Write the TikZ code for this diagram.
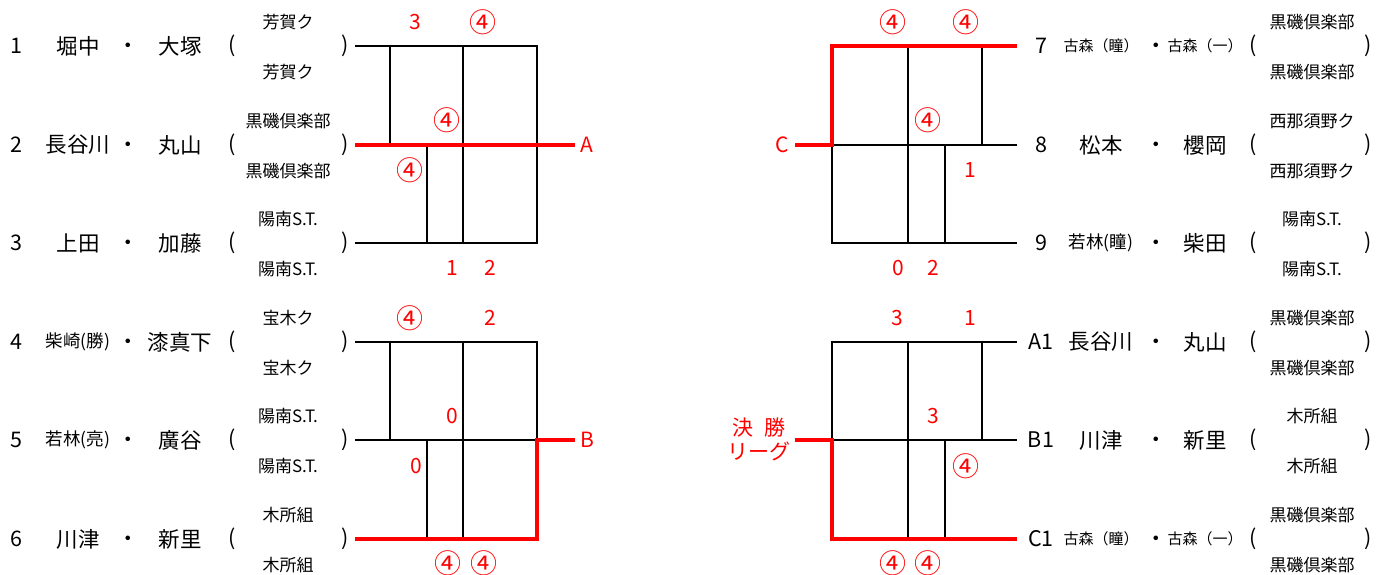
\documentclass[tikz,border=0pt]{standalone}
\usepackage{fontspec}
\setmainfont{Noto Sans CJK JP}
\usepackage{tikz}
\usetikzlibrary{calc}
\newcommand{\smallnm}[1]{{\fontsize{17.5}{17.5}\selectfont #1}}
\newcommand{\tinynm}[1]{{\fontsize{15}{15}\selectfont #1}}
\newcommand{\cfour}{{\fontsize{27}{27}\selectfont ④}}
\tikzset{
    % 黒い線
    blackline/.style={
        line width=1.4pt,
        black
    },
    % 赤い勝ち上がり線
    redline/.style={
        line width=3.6pt,
        red
    },
    bigname/.style={font=\fontsize{21.5}{21.5}\selectfont, inner sep=0pt},
    clubname/.style={font=\fontsize{17}{17}\selectfont, inner sep=0pt},
    redtext/.style={font=\fontsize{21}{21}\selectfont, text=red, inner sep=0pt}
}

\begin{document}
\begin{tikzpicture}[x=1pt,y=-1pt]
	\useasboundingbox (0,0) rectangle (1391,574);
	
	% 左の組 (1--6)
	\foreach \i/\y/\na/\nb/\club in {1/46/堀中/大塚/芳賀ク,
		2/145/長谷川/丸山/黒磯倶楽部,
		3/243/上田/加藤/陽南S.T.,
		4/342/\smallnm{柴崎(勝)}/漆真下/宝木ク,
		5/440/\smallnm{若林(亮)}/廣谷/陽南S.T.,
		6/539/川津/新里/木所組}{
		\node[bigname] (num\i) at (16,\y) {\i};
		\node[bigname] (na\i) at (78,\y) {\na};
		\node[bigname] (dot\i) at (128,\y+2) {・};
		\node[bigname] (nb\i) at (180,\y) {\nb};
		\node[bigname] (lp\i) at (232,\y) {(};
		\node[clubname] (cu\i) at (288,\y-24) {\club};
		\node[clubname] (cd\i) at (288,\y+26) {\club};
		\node[bigname] (rp\i) at (345,\y) {)};
	}
	
	% 右の組 (7--9, A1--C1)
	\foreach \i/\y/\k/\na/\nb/\club in {7/46/7/\tinynm{古森（瞳）}/\tinynm{古森（一）}/黒磯倶楽部,
		8/145/8/松本/櫻岡/西那須野ク,
		9/243/9/\smallnm{若林(瞳)}/柴田/陽南S.T.,
		10/342/A1/長谷川/丸山/黒磯倶楽部,
		11/440/B1/川津/新里/木所組,
		12/539/C1/\tinynm{古森（瞳）}/\tinynm{古森（一）}/黒磯倶楽部}{
		\node[bigname] (num\i) at (1041,\y) {\k};
		\node[bigname] (na\i) at (1101,\y) {\na};
		\node[bigname] (dot\i) at (1156,\y+2) {・};
		\node[bigname] (nb\i) at (1205,\y) {\nb};
		\node[bigname] (lp\i) at (1253,\y) {(};
		\node[clubname] (cu\i) at (1312,\y-24) {\club};
		\node[clubname] (cd\i) at (1312,\y+26) {\club};
		\node[bigname] (rp\i) at (1368,\y) {)};
	}
	
	\path
	(355,46) coordinate (p1) (537,46) coordinate (q1)
	(355,145) coordinate (p2) (537,145) coordinate (q2)
	(355,243) coordinate (p3) (537,243) coordinate (q3)
	(355,342) coordinate (p4) (537,342) coordinate (q4)
	(355,440) coordinate (p5) (537,440) coordinate (q5)
	(355,539) coordinate (p6) (537,539) coordinate (q6)
	(575,145) coordinate (ta) (575,440) coordinate (tb)
	
	(832,46) coordinate (s1) (1017,46) coordinate (t1)
	(832,145) coordinate (s2) (1017,145) coordinate (t2)
	(832,243) coordinate (s3) (1017,243) coordinate (t3)
	(832,342) coordinate (s4) (1017,342) coordinate (t4)
	(832,440) coordinate (s5) (1017,440) coordinate (t5)
	(832,539) coordinate (s6) (1017,539) coordinate (t6)
	(795,145) coordinate (tc) (795,440) coordinate (tf);
	
	% 黒線 左上
	\draw[blackline] (p1) -- (q1) -- (q3) -- (p3);
	\draw[blackline] (390,46) -- (390,145);
	\draw[blackline] (463,46) -- (463,243);
	\draw[blackline] (427,145) -- (427,243);
	% 黒線 左下
	\draw[blackline] (p4) -- (q4) -- (q5) -- (p5);
	\draw[blackline] (390,342) -- (390,440);
	\draw[blackline] (463,342) -- (463,539);
	\draw[blackline] (427,440) -- (427,539);
	% 黒線 右上
	\draw[blackline] (t2) -- (s2) -- (s3) -- (t3);
	\draw[blackline] (908,46) -- (908,243);
	\draw[blackline] (982,46) -- (982,145);
	\draw[blackline] (945,145) -- (945,243);
	% 黒線 右下
	\draw[blackline] (t5) -- (s5) -- (s4) -- (t4);
	\draw[blackline] (908,342) -- (908,539);
	\draw[blackline] (982,342) -- (982,440);
	\draw[blackline] (945,440) -- (945,539);
	
	% 赤線
	\draw[redline] (p2) -- (ta);
	\draw[redline] (p6) -- (q6) -- (q5) -- (tb);
	\draw[redline] (tc) -- (s2) -- (s1) -- (t1);
	\draw[redline] (tf) -- (s5) -- (s6) -- (t6);
	
	% 赤文字
	\node[redtext] (la) at (587,145) {A};
	\node[redtext] (lb) at (587,440) {B};
	\node[redtext] (lc) at (782,145) {C};
	\node[redtext,align=center] (lf) at (759,439) {決\hspace{0.5em}勝\\[3pt]リーグ};
	
	% 得点
	\node[redtext] (sc1) at (415,22) {3};
	\node[redtext] (sc2) at (483,22) {\cfour};
	\node[redtext] (sc3) at (447,120) {\cfour};
	\node[redtext] (sc4) at (410,170) {\cfour};
	\node[redtext] (sc5) at (452,268) {1};
	\node[redtext] (sc6) at (490,268) {2};
	
	\node[redtext] (sc7) at (410,318) {\cfour};
	\node[redtext] (sc8) at (490,318) {2};
	\node[redtext] (sc9) at (452,416) {0};
	\node[redtext] (sc10) at (416,466) {0};
	\node[redtext] (sc11) at (448,563) {\cfour};
	\node[redtext] (sc12) at (484,563) {\cfour};
	
	\node[redtext] (sc13) at (893,22) {\cfour};
	\node[redtext] (sc14) at (966,22) {\cfour};
	\node[redtext] (sc15) at (928,120) {\cfour};
	\node[redtext] (sc16) at (970,170) {1};
	\node[redtext] (sc17) at (898,268) {0};
	\node[redtext] (sc18) at (933,268) {2};
	
	\node[redtext] (sc19) at (897,318) {3};
	\node[redtext] (sc20) at (970,318) {1};
	\node[redtext] (sc21) at (933,416) {3};
	\node[redtext] (sc22) at (966,466) {\cfour};
	\node[redtext] (sc23) at (893,563) {\cfour};
	\node[redtext] (sc24) at (928,563) {\cfour};
\end{tikzpicture}
\end{document}
